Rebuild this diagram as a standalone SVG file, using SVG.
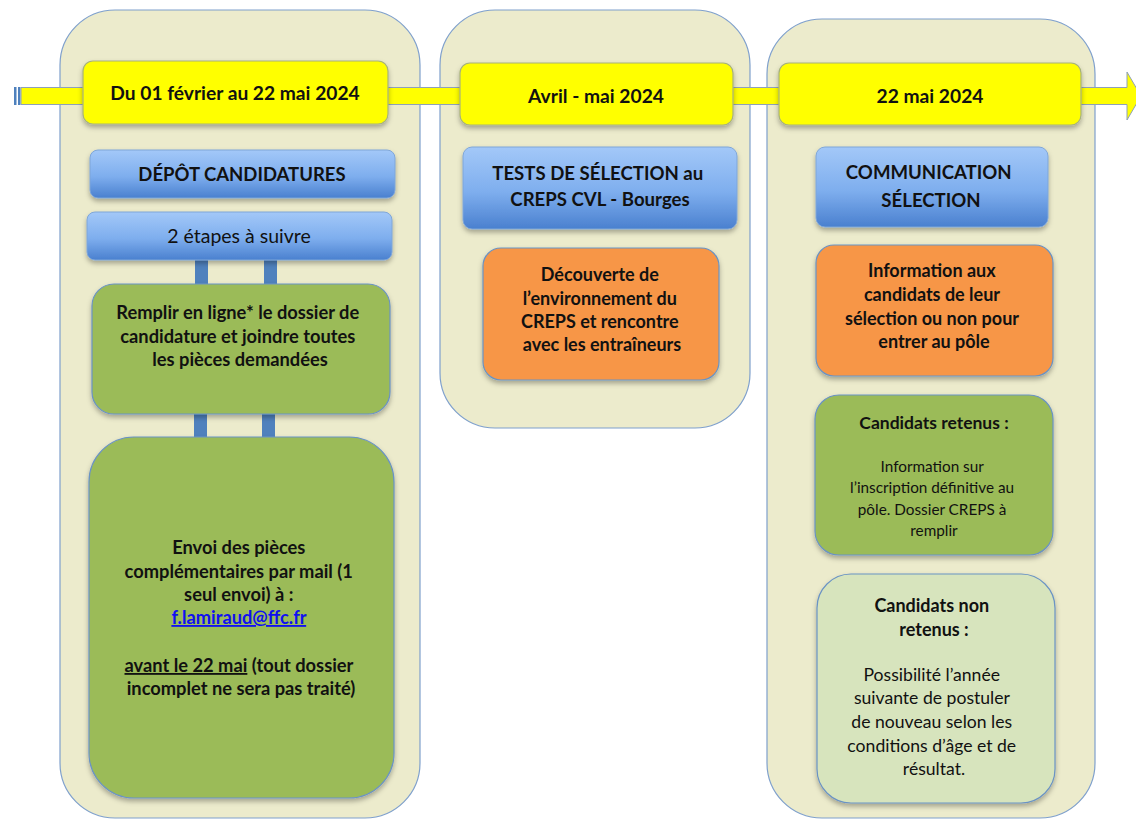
<svg xmlns="http://www.w3.org/2000/svg" width="1136" height="820" viewBox="0 0 1136 820">
<style>
text{font-family:Lato,"Open Sans","Liberation Sans",sans-serif;text-anchor:middle;fill:#111}
.b{font-weight:bold}
.col{fill:#ECEBCC;stroke:#7FA0CC;stroke-width:1.2}
.date{fill:#FFFF00;stroke:#A7B27A;stroke-width:1.2;filter:url(#sh)}
.blue{fill:url(#gb);stroke:#7FA6D8;stroke-width:1;filter:url(#sh)}
.green{fill:#9BBB59;stroke:#6A93C4;stroke-width:1.2;filter:url(#sh)}
.orange{fill:#F79646;stroke:#6A93C4;stroke-width:1.2;filter:url(#sh)}
.lgreen{fill:#D7E4BD;stroke:#6A93C4;stroke-width:1.2;filter:url(#sh)}
.conn{fill:#4F81BD}
</style>
<defs>
<linearGradient id="gb" x1="0" y1="0" x2="0" y2="1">
<stop offset="0" stop-color="#A3C8F8"/>
<stop offset="0.55" stop-color="#7EAEEE"/>
<stop offset="1" stop-color="#4A80CF"/>
</linearGradient>
<filter id="sh" x="-10%" y="-10%" width="120%" height="130%">
<feDropShadow dx="0" dy="3" stdDeviation="2.5" flood-color="#000" flood-opacity="0.3"/>
</filter>
</defs>

<g id="columns">
<rect id="col1" class="col" x="60" y="10" width="360" height="808" rx="55"/>
<rect id="col2" class="col" x="440" y="10" width="310" height="418" rx="55"/>
<rect id="col3" class="col" x="767" y="19" width="328" height="799" rx="55"/>
</g>

<g id="timeline">
<rect x="14" y="87" width="2.5" height="18" fill="#4F81BD"/>
<rect x="18" y="87" width="2.5" height="18" fill="#4F81BD"/>
<polygon points="21,87.5 1127,87.5 1127,72 1141,96 1127,120 1127,104.5 21,104.5" fill="#FFFF00" stroke="#8FA0B8" stroke-width="1"/>
</g>

<g id="connectors">
<rect class="conn" x="195" y="260" width="13" height="26"/>
<rect class="conn" x="264" y="260" width="13" height="26"/>
<rect class="conn" x="194" y="413" width="13" height="26"/>
<rect class="conn" x="262" y="413" width="13" height="26"/>
</g>

<g id="date1">
<rect class="date" x="83" y="61" width="305" height="63" rx="10"/>
<text class="b" x="235" y="100" font-size="19.2">Du 01 février au 22 mai 2024</text>
</g>
<g id="date2">
<rect class="date" x="460" y="63" width="273" height="62" rx="10"/>
<text class="b" x="596" y="103" font-size="19.2">Avril - mai 2024</text>
</g>
<g id="date3">
<rect class="date" x="779" y="63" width="302" height="62" rx="10"/>
<text class="b" x="930" y="103" font-size="19.2">22 mai 2024</text>
</g>

<g id="depot">
<rect class="blue" x="90" y="150" width="305" height="48" rx="8"/>
<text class="b" x="242" y="181" font-size="18.5">DÉPÔT CANDIDATURES</text>
</g>
<g id="etapes">
<rect class="blue" x="87" y="212" width="305" height="48" rx="8"/>
<text x="239" y="243" font-size="19.5">2 étapes à suivre</text>
</g>
<g id="remplir">
<rect class="green" x="92" y="284" width="298" height="130" rx="22"/>
<text class="b" font-size="18.3">
<tspan x="240" y="319">Remplir en ligne* le dossier de</tspan>
<tspan x="240" y="343">candidature et joindre toutes</tspan>
<tspan x="240" y="366">les pièces demandées</tspan>
</text>
</g>
<g id="envoi">
<rect class="green" x="89" y="437" width="305" height="361" rx="45"/>
<text class="b" font-size="18.3">
<tspan x="241" y="554">Envoi des pièces</tspan>
<tspan x="241" y="578">complémentaires par mail (1</tspan>
<tspan x="241" y="601">seul envoi) à :</tspan>
<tspan x="241" y="624" fill="#1010F0" text-decoration="underline">f.lamiraud@ffc.fr</tspan>
<tspan x="241" y="672"><tspan text-decoration="underline">avant le 22 mai</tspan> (tout dossier</tspan>
<tspan x="241" y="695">incomplet ne sera pas traité)</tspan>
</text>
</g>

<g id="tests">
<rect class="blue" x="463" y="147" width="274" height="82" rx="9"/>
<text class="b" font-size="18.6">
<tspan x="600" y="180">TESTS DE SÉLECTION au</tspan>
<tspan x="600" y="206">CREPS CVL - Bourges</tspan>
</text>
</g>
<g id="decouverte">
<rect class="orange" x="483" y="248" width="236" height="132" rx="18"/>
<text class="b" font-size="18">
<tspan x="602" y="281">Découverte de</tspan>
<tspan x="602" y="305">l’environnement du</tspan>
<tspan x="602" y="328">CREPS et rencontre</tspan>
<tspan x="602" y="351">avec les entraîneurs</tspan>
</text>
</g>

<g id="communication">
<rect class="blue" x="816" y="147" width="232" height="80" rx="9"/>
<text class="b" font-size="18.6">
<tspan x="931" y="179">COMMUNICATION</tspan>
<tspan x="931" y="207">SÉLECTION</tspan>
</text>
</g>
<g id="information">
<rect class="orange" x="816" y="245" width="237" height="131" rx="18"/>
<text class="b" font-size="18">
<tspan x="934" y="277">Information aux</tspan>
<tspan x="934" y="301">candidats de leur</tspan>
<tspan x="934" y="325">sélection ou non pour</tspan>
<tspan x="934" y="348">entrer au pôle</tspan>
</text>
</g>
<g id="retenus">
<rect class="green" x="815" y="395" width="238" height="160" rx="24"/>
<text class="b" x="934" y="429" font-size="17.5">Candidats retenus :</text>
<text font-size="15.3">
<tspan x="934" y="472">Information  sur</tspan>
<tspan x="934" y="493">l’inscription  définitive  au</tspan>
<tspan x="934" y="515">pôle.  Dossier CREPS à</tspan>
<tspan x="934" y="536">remplir</tspan>
</text>
</g>
<g id="nonretenus">
<rect class="lgreen" x="817" y="574" width="238" height="229" rx="34"/>
<text class="b" font-size="18">
<tspan x="934" y="612">Candidats non</tspan>
<tspan x="934" y="636">retenus :</tspan>
</text>
<text font-size="17.6">
<tspan x="934" y="681">Possibilité  l’année</tspan>
<tspan x="934" y="704">suivante  de  postuler</tspan>
<tspan x="934" y="728">de nouveau  selon les</tspan>
<tspan x="934" y="752">conditions  d’âge et de</tspan>
<tspan x="934" y="775">résultat.</tspan>
</text>
</g>
</svg>
